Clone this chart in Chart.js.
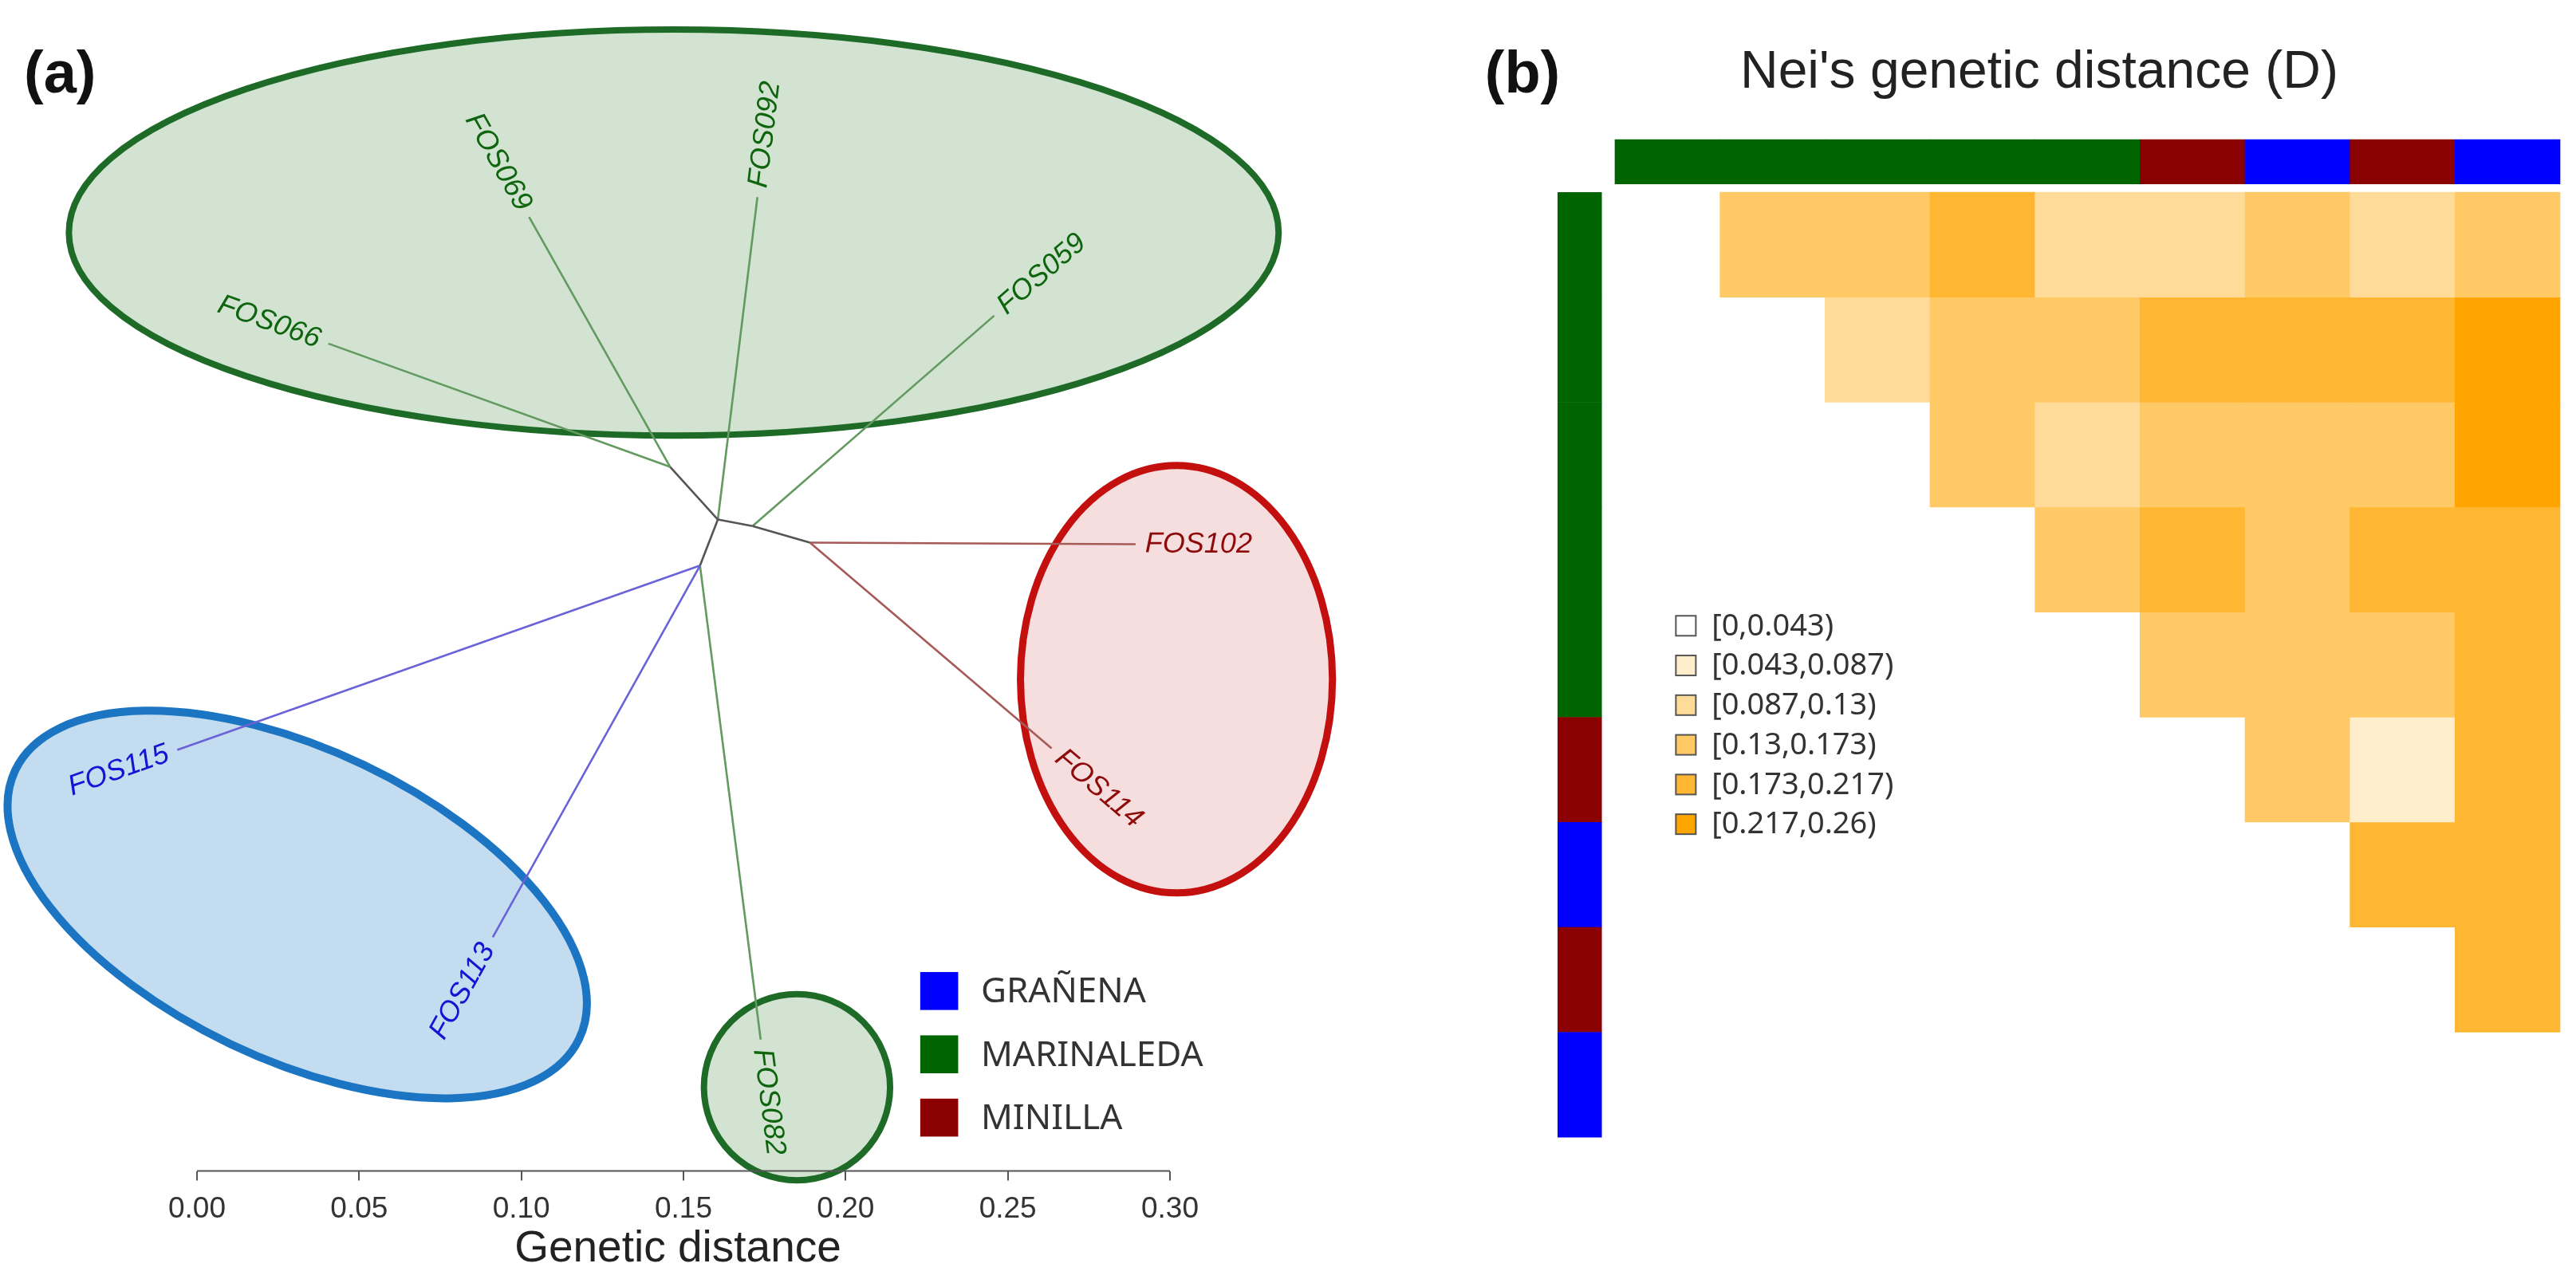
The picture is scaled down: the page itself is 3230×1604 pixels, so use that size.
<!DOCTYPE html>
<html><head><meta charset="utf-8">
<script src="https://cdn.jsdelivr.net/npm/chart.js@4.4.1/dist/chart.umd.min.js"></script>
<style>
html,body{margin:0;padding:0;background:#fff;}
body{width:3230px;height:1604px;position:relative;overflow:hidden;}
#ca{position:absolute;left:0;top:0;}
#cb{position:absolute;left:1700px;top:0;}
</style></head><body>
<canvas id="ca" width="1700" height="1604"></canvas>
<canvas id="cb" width="1530" height="1604"></canvas>
<script>
// ================= DATA =================
// Panel (a): unrooted tree (genetic distance units, y measured up from the axis)
const tipNames  = ['FOS066','FOS069','FOS092','FOS059','FOS102','FOS114','FOS115','FOS113','FOS082'];
const tipPop    = ['MARINALEDA','MARINALEDA','MARINALEDA','MARINALEDA','MINILLA','MINILLA','GRAÑENA','GRAÑENA','MARINALEDA'];
const tipX      = [0.0405, 0.1024, 0.1728, 0.2458, 0.2894, 0.2635, -0.0061, 0.0912, 0.1738];
const tipY      = [0.2549, 0.2939, 0.3000, 0.2635, 0.1931, 0.1302, 0.1297, 0.0720, 0.0405];
const tipParent = ['n1','n1','n2','n3','n4','n4','n5','n5','n5'];
const nodeNames = ['n1','n2','n3','n4','n5'];
const nodeX     = [0.1459, 0.1606, 0.1713, 0.1890, 0.1551];
const nodeY     = [0.2169, 0.2007, 0.1987, 0.1936, 0.1865];
const innerFrom = ['n1','n2','n2','n3'];
const innerTo   = ['n2','n3','n5','n4'];
const distTicks = [0, 0.05, 0.10, 0.15, 0.20, 0.25, 0.30];
const popNames  = ['GRAÑENA','MARINALEDA','MINILLA'];
// group ellipses (centre, semi-axes, tilt in degrees)
const ellPop = ['MARINALEDA','MINILLA','GRAÑENA','MARINALEDA'];
const ellCX  = [0.1470, 0.3020, 0.0309, 0.1850];
const ellCY  = [0.2891, 0.1515, 0.0821, 0.0258];
const ellA   = [0.1865, 0.0481, 0.0963, 0.0287];
const ellB   = [0.0626, 0.0659, 0.0477, 0.0287];
const ellRot = [0, 0, -25.5, 0];

// Panel (b): Nei's genetic distance, upper triangle (row i, columns i+1..8)
const samples   = ['FOS059','FOS066','FOS069','FOS082','FOS092','FOS102','FOS113','FOS114','FOS115'];
const samplePop = ['MARINALEDA','MARINALEDA','MARINALEDA','MARINALEDA','MARINALEDA','MINILLA','GRAÑENA','MINILLA','GRAÑENA'];
const neiD = [
  [0.15, 0.15, 0.19, 0.11, 0.11, 0.15, 0.11, 0.15],
  [0.11, 0.15, 0.15, 0.19, 0.19, 0.19, 0.23],
  [0.15, 0.11, 0.15, 0.15, 0.15, 0.23],
  [0.15, 0.19, 0.15, 0.19, 0.19],
  [0.15, 0.15, 0.15, 0.19],
  [0.15, 0.07, 0.19],
  [0.19, 0.19],
  [0.19]
];
const classBreaks = [0, 0.043, 0.087, 0.13, 0.173, 0.217, 0.26];
const classLabels = ['[0,0.043)','[0.043,0.087)','[0.087,0.13)','[0.13,0.173)','[0.173,0.217)','[0.217,0.26)'];

// ================= STYLES =================
const classColors = ['#FFFFFF','#FFEDCC','#FFDB99','#FFC966','#FFB733','#FFA500'];
const popColor = {'GRAÑENA':'#0000FF','MARINALEDA':'#006400','MINILLA':'#8B0000'};
const popLabelColor = {'GRAÑENA':'#1414D4','MARINALEDA':'#0E650E','MINILLA':'#8E0A0A'};
const popBranchColor = {'GRAÑENA':'#6A62D8','MARINALEDA':'#629A5F','MINILLA':'#A65A57'};
const innerColor = '#555555';
const ellFill = {'GRAÑENA':'#C3DCF0','MARINALEDA':'#D2E3D2','MINILLA':'#F6DEDE'};
const ellStroke = {'GRAÑENA':'#1B75C2','MARINALEDA':'#1E6B28','MINILLA':'#C40F0F'};
const ellLW = [8, 9, 10, 8];
const SANS = "'Liberation Sans', Arial, sans-serif";
const NOTO = "'Noto Sans', 'DejaVu Sans', sans-serif";

function colorFor(v){
  for (let k = classBreaks.length - 2; k >= 0; k--) if (v >= classBreaks[k]) return classColors[k];
  return classColors[0];
}

// ================= PANEL (a) =================
const PXU_A = 1220 / 0.30;            // pixels per distance unit
const AXIS_LEFT = 247, AXIS_BOTTOM = 1467;
const XMIN = -AXIS_LEFT / PXU_A, XMAX = (1700 - AXIS_LEFT) / PXU_A;
const YMAX = AXIS_BOTTOM / PXU_A;

function nodePos(name){
  let k = nodeNames.indexOf(name);
  if (k >= 0) return {x: nodeX[k], y: nodeY[k]};
  k = tipNames.indexOf(name);
  return {x: tipX[k], y: tipY[k]};
}
const edgeSets = [];
innerFrom.forEach((f, k) => edgeSets.push({data:[nodePos(f), nodePos(innerTo[k])], borderColor: innerColor}));
tipNames.forEach((t, k) => edgeSets.push({data:[nodePos(tipParent[k]), {x: tipX[k], y: tipY[k]}], borderColor: popBranchColor[tipPop[k]]}));
edgeSets.forEach(d => { d.borderWidth = 2.6; d.pointRadius = 0; d.fill = false; d.tension = 0; });

const legendA = {x: 0.2230, y: 0.0613, step: 0.0195, box: 0.0117, textX: 0.2417};

const treeDeco = {
  id: 'treeDeco',
  beforeDatasetsDraw(chart){
    const {ctx, scales:{x, y}} = chart;
    const u = x.getPixelForValue(1) - x.getPixelForValue(0);
    ellPop.forEach((p, k) => {
      ctx.save();
      ctx.beginPath();
      ctx.ellipse(x.getPixelForValue(ellCX[k]), y.getPixelForValue(ellCY[k]), ellA[k]*u, ellB[k]*u,
                  -ellRot[k]*Math.PI/180, 0, Math.PI*2);
      ctx.fillStyle = ellFill[p]; ctx.fill();
      ctx.lineWidth = ellLW[k]; ctx.strokeStyle = ellStroke[p]; ctx.stroke();
      ctx.restore();
    });
  },
  afterDatasetsDraw(chart){
    const {ctx, scales:{x, y}, chartArea} = chart;
    ctx.save();
    // axis line
    ctx.strokeStyle = '#555'; ctx.lineWidth = 2;
    ctx.beginPath();
    ctx.moveTo(x.getPixelForValue(distTicks[0]), chartArea.bottom);
    ctx.lineTo(x.getPixelForValue(distTicks[distTicks.length-1]), chartArea.bottom);
    ctx.stroke();
    // tip labels along branches
    ctx.font = 'italic 36px ' + SANS;
    ctx.textBaseline = 'middle';
    tipNames.forEach((t, k) => {
      const par = nodePos(tipParent[k]);
      const tx = x.getPixelForValue(tipX[k]), ty = y.getPixelForValue(tipY[k]);
      const dx = tx - x.getPixelForValue(par.x), dy = ty - y.getPixelForValue(par.y);
      let ang = Math.atan2(dy, dx);
      ctx.save();
      ctx.translate(tx, ty);
      ctx.fillStyle = popLabelColor[tipPop[k]];
      if (Math.cos(ang) >= 0) { ctx.rotate(ang); ctx.textAlign = 'left'; ctx.fillText(t, 12, 0); }
      else { ctx.rotate(ang + Math.PI); ctx.textAlign = 'right'; ctx.fillText(t, -12, 0); }
      ctx.restore();
    });
    // population legend
    const u = x.getPixelForValue(1) - x.getPixelForValue(0);
    ctx.font = '44px ' + NOTO; ctx.textAlign = 'left'; ctx.textBaseline = 'middle';
    popNames.forEach((p, k) => {
      const top = y.getPixelForValue(legendA.y - k*legendA.step);
      const bx = x.getPixelForValue(legendA.x), bs = legendA.box*u;
      ctx.fillStyle = popColor[p]; ctx.fillRect(bx, top, bs, bs);
      ctx.fillStyle = '#333'; ctx.fillText(p, x.getPixelForValue(legendA.textX), top + bs/2 + 2);
    });
    // panel tag
    ctx.font = 'bold 74px ' + SANS; ctx.fillStyle = '#111'; ctx.textBaseline = 'middle';
    ctx.fillText('(a)', 30, 96);
    ctx.restore();
  }
};

new Chart(document.getElementById('ca'), {
  type: 'line',
  data: { datasets: edgeSets },
  options: {
    responsive: false, animation: false, devicePixelRatio: 1,
    layout: { padding: {left: 0, right: 0, top: 0, bottom: 10} },
    plugins: { legend: {display: false}, tooltip: {enabled: false} },
    scales: {
      x: {
        type: 'linear', min: XMIN, max: XMAX, position: 'bottom',
        afterBuildTicks: s => { s.ticks = distTicks.map(v => ({value: v})); },
        ticks: { callback: v => Number(v).toFixed(2), font: {size: 37, family: SANS}, color: '#333',
                 padding: 14, autoSkip: false, maxRotation: 0 },
        grid: { drawOnChartArea: false, drawTicks: true, tickLength: 12, color: '#555', lineWidth: 2 },
        border: { display: false },
        title: { display: true, text: 'Genetic distance', font: {size: 55, family: SANS, lineHeight: 1.0}, color: '#222',
                 padding: {top: -14, bottom: 0} }
      },
      y: { type: 'linear', display: false, min: 0, max: YMAX }
    }
  },
  plugins: [treeDeco]
});

// ================= PANEL (b) =================
const CW = 1185 / 9;                 // cell size in px
const GRID_LEFT = 2025 - 1700, GRID_TOP = 241;
const BX0 = -GRID_LEFT / CW, BX1 = (1530 - GRID_LEFT) / CW;
const BY0 = -GRID_TOP / CW,  BY1 = (1604 - GRID_TOP) / CW;
const topBar = {y0: -0.5, y1: -0.078};
const leftBar = {x0: -0.547, x1: -0.125};
const legendB = {x: 0.58, box: 0.19, y: 4.13, step: 0.378, textX: 0.92};

const cellSets = neiD.map((row, i) => ({
  data: row.map((v, k) => ({x: i + k + 1 + 0.5, y: [i, i + 1], v: v})),
  backgroundColor: c => colorFor(c.raw ? c.raw.v : 0),
  borderWidth: 0, grouped: false, barPercentage: 1, categoryPercentage: 1
}));
cellSets.push({
  data: samples.map((s, j) => ({x: j + 0.5, y: [topBar.y0, topBar.y1]})),
  backgroundColor: samplePop.map(p => popColor[p]),
  borderWidth: 0, grouped: false, barPercentage: 1, categoryPercentage: 1
});

const heatDeco = {
  id: 'heatDeco',
  afterDatasetsDraw(chart){
    const {ctx, scales:{x, y}} = chart;
    ctx.save();
    // left population bar
    samplePop.forEach((p, i) => {
      const x0 = x.getPixelForValue(leftBar.x0), x1 = x.getPixelForValue(leftBar.x1);
      const y0 = y.getPixelForValue(i), y1 = y.getPixelForValue(i + 1);
      ctx.fillStyle = popColor[p];
      ctx.fillRect(x0, y0, x1 - x0, y1 - y0 + 0.5);
    });
    // title
    ctx.fillStyle = '#222'; ctx.font = '66px ' + SANS; ctx.textAlign = 'center'; ctx.textBaseline = 'middle';
    ctx.fillText("Nei's genetic distance (D)", x.getPixelForValue(4.04), y.getPixelForValue(-1.13));
    // panel tag
    ctx.font = 'bold 74px ' + SANS; ctx.fillStyle = '#111'; ctx.textAlign = 'left';
    ctx.fillText('(b)', x.getPixelForValue(-1.24), 96);
    // class legend
    ctx.font = '38px ' + NOTO; ctx.textBaseline = 'middle';
    classLabels.forEach((lab, k) => {
      const cy = y.getPixelForValue(legendB.y + k*legendB.step);
      const bx = x.getPixelForValue(legendB.x);
      const bs = x.getPixelForValue(legendB.x + legendB.box) - bx;
      ctx.fillStyle = classColors[k]; ctx.fillRect(bx, cy - bs/2, bs, bs);
      ctx.strokeStyle = '#555'; ctx.lineWidth = 2; ctx.strokeRect(bx, cy - bs/2, bs, bs);
      ctx.fillStyle = '#333'; ctx.fillText(lab, x.getPixelForValue(legendB.textX), cy + 1);
    });
    ctx.restore();
  }
};

new Chart(document.getElementById('cb'), {
  type: 'bar',
  data: { datasets: cellSets },
  options: {
    responsive: false, animation: false, devicePixelRatio: 1,
    layout: { padding: 0 },
    plugins: { legend: {display: false}, tooltip: {enabled: false} },
    scales: {
      x: { type: 'linear', display: false, offset: false, min: BX0, max: BX1,
           afterBuildTicks: s => { s.ticks = samples.map((n, j) => ({value: j})); } },
      y: { type: 'linear', display: false, min: BY0, max: BY1, reverse: true }
    }
  },
  plugins: [heatDeco]
});
</script>
</body></html>
